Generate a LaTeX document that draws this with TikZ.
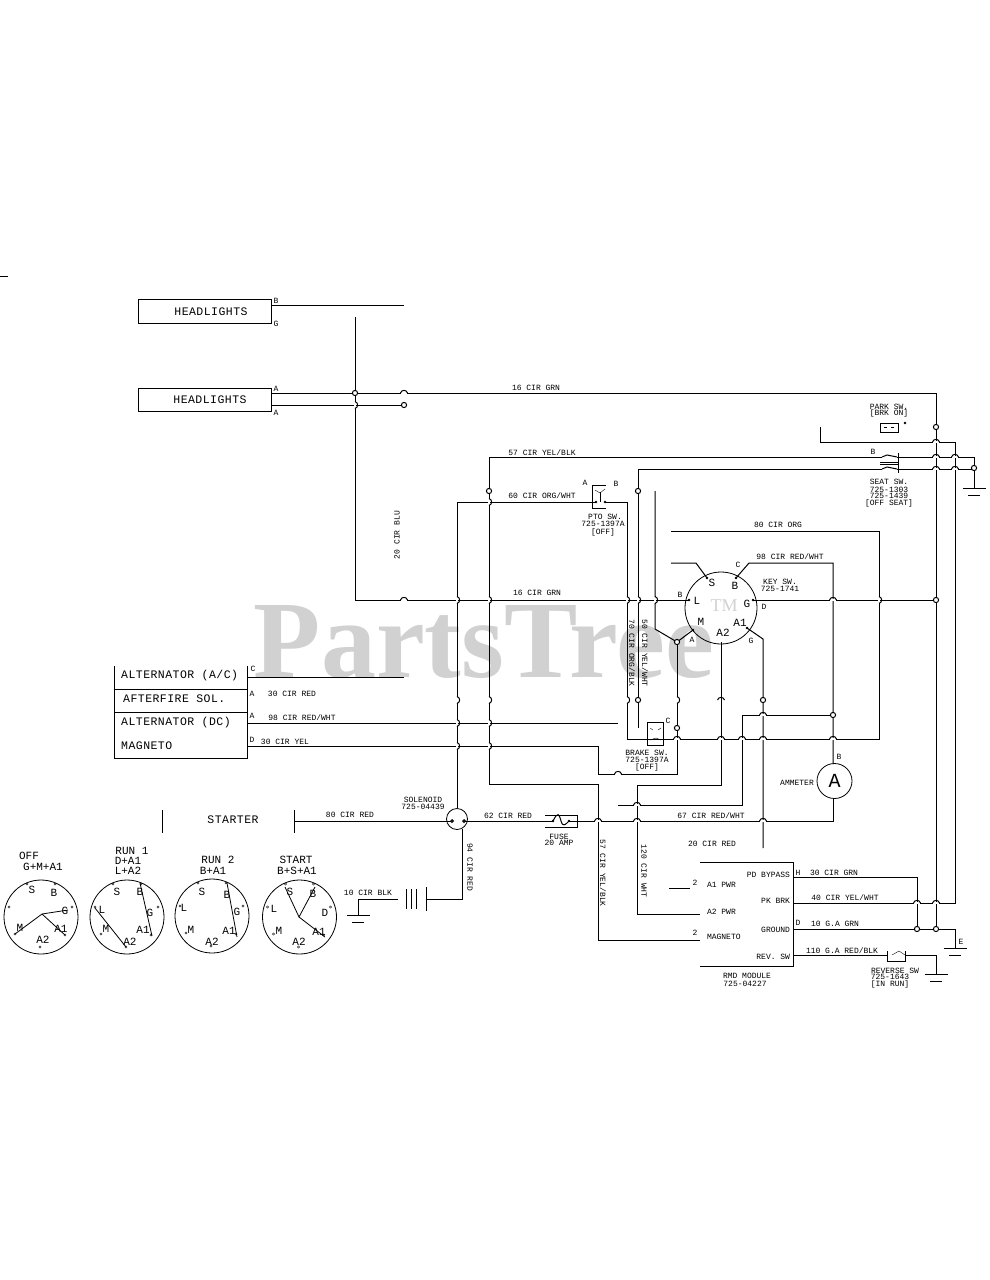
\documentclass[tikz,border=0pt]{standalone}
\usepackage{fontspec}
\setmainfont{Liberation Mono}
\newfontfamily\wmfont{Liberation Serif}
\newfontfamily\bigfont[LetterSpace=4]{Liberation Mono}
\newcount\lbn
\newcommand{\lbl}[4][lab]{\global\advance\lbn by 1 \node[#1] (l\the\lbn) at (#2,#3) {#4};}
\newcommand{\vhopmark}[2]{\fill[white] (#1-1,#2-3) rectangle (#1+1,#2+3);\draw[wire] (#1,#2-3.5) .. controls (#1+3.5,#2-2.5) and (#1+3.5,#2+2.5) .. (#1,#2+3.5);}
\newcommand{\hhopmark}[2]{\fill[white] (#1-3,#2-1) rectangle (#1+3,#2+1);\draw[wire] (#1-3.5,#2) .. controls (#1-2.5,#2-3.5) and (#1+2.5,#2-3.5) .. (#1+3.5,#2);}
\newcommand{\ringmark}[2]{\draw[wire,fill=white] (#1,#2) circle (2.6pt);}
\newcommand{\dotmark}[2]{\fill (#1,#2) circle (1.3pt);}
\newcommand{\gnd}[3]{\draw[wire] (#1-#3,#2) -- (#1+#3,#2) (#1-#3/2,#2+7) -- (#1+#3/2,#2+7);}
\tikzset{
 wire/.style={line width=1pt,black},
 lab/.style={font=\fontsize{8}{8}\selectfont,inner sep=0pt,outer sep=0pt,text=black},
 vlab/.style={lab,rotate=-90},
 ulab/.style={lab,rotate=90},
 big/.style={font=\bigfont\fontsize{11.5}{11.5}\selectfont,inner sep=0pt,text=black},
 keyl/.style={font=\fontsize{11}{11}\selectfont,inner sep=0pt,text=black},
 boxs/.style={draw,line width=1pt,inner sep=0pt},
 roundel/.style={draw,circle,line width=.8pt,inner sep=0pt},
}
\begin{document}
\begin{tikzpicture}[x=1pt,y=-1pt]
\useasboundingbox (0,0) rectangle (989,1280);
% watermark
\node[font=\wmfont\bfseries\fontsize{110}{110}\selectfont,text=black!18,inner sep=0pt,anchor=base] (wm) at (484,677) {PartsTree};
\node[font=\fontsize{18}{18}\selectfont\wmfont,text=black!18,inner sep=0pt] (wmtm) at (724,606) {TM};
% named points
\coordinate (tickA) at (0,276); \coordinate (tickB) at (8,276);
\node[boxs,minimum width=133pt,minimum height=24pt] (hlone) at (204.5,311) {};
\node[boxs,minimum width=133pt,minimum height=23pt] (hltwo) at (204.5,399.5) {};
\coordinate (hlEnd) at (404,305);
\coordinate (bluTop) at (355,317); \coordinate (bluBot) at (355,600);
\coordinate (gA) at (271,393); \coordinate (gAend) at (936,393);
\coordinate (gB) at (271,405); \coordinate (gBend) at (404,405);
\coordinate (rightBus) at (936,929);
\coordinate (grnEnd) at (936,600);
\coordinate (parkT) at (820,427); \coordinate (parkB) at (955,442); \coordinate (modY) at (793,903);
\coordinate (seat1) at (489,457); \coordinate (seat1e) at (974,457);
\coordinate (seat2) at (638,469); \coordinate (seat2e) at (974,469);
\coordinate (gndSeat) at (974,488);
\coordinate (y489) at (489,784); \coordinate (x598) at (598,940); \coordinate (modMag) at (700,940);
\coordinate (sTop) at (457,502); \coordinate (ptoIn) at (596,502); \coordinate (ptoOut) at (605,502);
\coordinate (orgTop) at (627,502); \coordinate (orgBot) at (627,739); \coordinate (orgR) at (879,739);
\coordinate (orgUp) at (879,531); \coordinate (orgEnd) at (671,531);
\coordinate (x638b) at (638,728); \coordinate (x655t) at (655,491); \coordinate (x655b) at (655,629);
\coordinate (ringM) at (677,642); \coordinate (termM) at (693,630);
\coordinate (termS) at (707,578); \coordinate (sK) at (696,563); \coordinate (sEnd) at (671,563);
\coordinate (termB) at (736,578); \coordinate (bK) at (749,563); \coordinate (bK2) at (833,563);
\coordinate (termL) at (689,600); \coordinate (termG) at (753,600);
\coordinate (termAone) at (747,628); \coordinate (aK) at (763,639); \coordinate (aEnd) at (763,848);
\coordinate (termAtwo) at (721,642); \coordinate (a2k) at (721,785); \coordinate (a2l) at (637,785); \coordinate (a2d) at (637,914); \coordinate (modA2) at (700,914);
\coordinate (alt) at (247,677); \coordinate (altE) at (404,677);
\coordinate (dcw) at (247,723); \coordinate (dcE) at (618,723);
\coordinate (mag) at (247,746); \coordinate (magK) at (598,746); \coordinate (magD) at (598,774); \coordinate (magE) at (677,774);
\coordinate (w805) at (618,805); \coordinate (w805k) at (742,805); \coordinate (w715) at (742,715); \coordinate (w715e) at (833,715);
\coordinate (starterR) at (294,821);
\coordinate (batT) at (462,829); \coordinate (batK) at (462,899); \coordinate (batP) at (426,899);
\coordinate (batN) at (398,899); \coordinate (batK2) at (358,899); \coordinate (batG) at (358,915);
\coordinate (fuseIn) at (464,821); \coordinate (fuseL) at (553,821); \coordinate (fuseR) at (569,821);
% shapes
\node[roundel,minimum size=72pt] (keysw) at (721,608) {};
\node[roundel,minimum size=35pt] (amm) at (834.5,781) {};
\node[roundel,minimum size=21pt] (sol) at (457,819) {};
\coordinate (ammW) at (833,821);
% wires
\draw[wire] (tickA) -- (tickB);
\draw[wire] (271,305) -- (hlEnd);
\draw[wire] (bluTop) -- (bluBot) -- (termL);
\draw[wire] (termG) -- (grnEnd);
\draw[wire] (gA) -- (gAend) -- (rightBus);
\draw[wire] (gB) -- (gBend);
\draw[wire] (parkT) -- (parkT |- parkB) -- (parkB) -- (parkB |- modY) -- (modY);
\draw[wire] (seat1 |- y489) -- (seat1) -- (882,457);
\draw[wire] (897,457) -- (seat1e) -- (seat2e);
\draw[wire] (seat2e) -- (gndSeat);
\draw[wire] (x638b) -- (seat2) -- (882,469) (897,469) -- (seat2e);
\draw[wire] (y489) -- (y489 -| x598) -- (x598) -- (modMag);
\draw[wire] (sol.north) -- (sTop) -- (ptoIn) (ptoOut) -- (orgTop) -- (orgBot) -- (orgR) -- (orgUp) -- (orgEnd);
\draw[wire] (x655t) -- (x655b) -- (ringM) -- (termM);
\draw[wire] (termS) -- (sK) -- (sEnd);
\draw[wire] (termB) -- (bK) -- (bK2) -- (833,764);
\draw[wire] (termAone) -- (aK) -- (aEnd);
\draw[wire] (termAtwo) -- (a2k) -- (a2l) -- (a2d) -- (modA2);
\draw[wire] (alt) -- (altE);
\draw[wire] (dcw) -- (dcE);
\draw[wire] (mag) -- (magK) -- (magD) -- (magE) -- (ringM);
\draw[wire] (w805) -- (w805k) -- (w715) -- (w715e);
\draw[wire] (starterR) -- (452,821);
\draw[wire] (fuseIn) -- (fuseL) (fuseR) -- (ammW) -- (833,798);
\draw[wire] (batT) -- (batK) -- (batP);
\draw[wire] (batN) -- (batK2) -- (batG);
% starter
\draw[wire] (162,810) -- (162,833) (294,810) -- (294,833);
% alternator block
\draw[wire] (114,666) -- (114,758) -- (247,758) -- (247,666) (114,689) -- (247,689) (114,712) -- (247,712);
% battery
\draw[wire] (426,887) -- (426,911) (416,889) -- (416,909) (411,889) -- (411,909) (406,889) -- (406,909);
\gnd{358}{915}{11.5}
\gnd{974}{488}{11.5}
\gnd{955}{948}{11.5}
\gnd{936}{974}{11.5}
% module
\draw[wire] (700,862) -- (793,862) -- (793,966) -- (700,966);
\draw[wire] (669,888) -- (690,888);
\draw[wire] (793,877) -- (917,877) -- (917,929);
\draw[wire] (793,929) -- (955,929) -- (955,948);
\draw[wire] (793,955) -- (887,955) (905,955) -- (936,955) -- (936,974);
% reverse switch
\draw[wire] (887,951) -- (887,961) -- (905,961) -- (905,951);
\draw[thin] (892,955) -- (899,951) (899,951) -- (905,955);
% fuse
\draw[wire] (545,815) -- (577,815) -- (577,827) -- (545,827);
\draw[wire] (fuseL) .. controls (558,811) and (559,814) .. (561,821) .. controls (563,828) and (566,824) .. (fuseR);
\dotmark{553}{821}\dotmark{569}{821}
% seat switch
\draw[wire] (880,462) -- (898,462) (880,464.5) -- (898,464.5) (898,453) -- (898,473);
\draw[wire] (882,457) -- (887,455) -- (897,457) (882,469) -- (887,467) -- (897,469);
% park switch
\draw[wire] (880,423) rectangle (898,432);
\draw[thin] (884,427.5) -- (887,427.5) (891,427.5) -- (894,427.5);
\dotmark{905}{423}
% pto switch
\draw[wire] (606,485) -- (592,485) -- (592,508) -- (606,508);
\draw[wire] (600,502) -- (600,492);
\draw[thin] (595,490) -- (600,493) -- (605,489);
\dotmark{596}{502}\dotmark{605}{502}
% brake switch
\draw[wire] (647,722) rectangle (663,745);
\draw[thin] (650,728) -- (653,730) (658,730) -- (661,728) (650,740) -- (656,738) -- (661,740);
% terminals of key switch
\dotmark{689}{600}\dotmark{753}{600}\dotmark{707}{578}\dotmark{736}{578}\dotmark{747}{628}\dotmark{693}{630}
% dials
\node[roundel,minimum size=74pt] (dialA) at (41,917) {};
\node[roundel,minimum size=74pt] (dialB) at (127,917) {};
\node[roundel,minimum size=74pt] (dialC) at (212,916) {};
\node[roundel,minimum size=74pt] (dialD) at (299.5,917) {};
\foreach \dx/\dy in {-14/-33,14/-33,-32/-10,31/-10,-26/17,24/18,-1/30}{\draw[thin] (41+\dx,917+\dy) circle (1.1pt);\draw[thin] (127+\dx,917+\dy) circle (1.1pt);\draw[thin] (212+\dx,916+\dy) circle (1.1pt);\draw[thin] (299.5+\dx,917+\dy) circle (1.1pt);}
\draw[line width=.8pt] (15,934) -- (42,914) -- (68,910) (42,914) -- (65,935);
\draw[line width=.8pt] (140,883) -- (152,936) (95,908) -- (126,947);
\draw[line width=.8pt] (227,883) -- (237,937);
\draw[line width=.8pt] (285,887) -- (299,917) -- (315,887) (299,917) -- (325,937);
% hops
\foreach \x/\y in {355/405,457/600,489/502,489/600,627/600,638/600,655/600,879/600,457/700,457/723,457/746,489/700,489/723,489/746,627/700,677/700}{\vhopmark{\x}{\y}}
\foreach \x/\y in {404/393,404/600,833/600,936/442,936/457,955/457,936/469,955/469,677/739,721/739,742/739,763/739,833/739,763/715,618/774,598/821,637/821,763/821,637/805,917/903,936/903}{\hhopmark{\x}{\y}}
\draw[wire] (717.5,700) .. controls (718.5,696.5) and (723.5,696.5) .. (724.5,700);
\foreach \x/\y in {355/393,404/405,936/427,974/468,489/491,638/491,638/700,763/700,677/642,677/728,833/715,936/600,917/929,936/929}{\ringmark{\x}{\y}}
\draw[wire,fill=white] (464,821) circle (1.3pt);
\draw[wire,fill=white] (452,821) circle (1.3pt);
% texts
\lbl[big]{211}{312}{HEADLIGHTS}
\lbl[big]{210}{400}{HEADLIGHTS}
\lbl{276}{301}{B}\lbl{276}{324}{G}\lbl{276}{389}{A}\lbl{276}{413}{A}
\lbl{536}{388}{16 CIR GRN}
\lbl{889}{407}{PARK SW.}\lbl{889}{413}{[BRK ON]}
\lbl{542}{453}{57 CIR YEL/BLK}
\lbl{873}{452}{B}
\lbl{889}{482}{SEAT SW.}\lbl{889}{490}{725-1303}\lbl{889}{496}{725-1439}\lbl{889}{503}{[OFF SEAT]}
\lbl{542}{496}{60 CIR ORG/WHT}
\lbl{585}{483}{A}\lbl{616}{484}{B}
\lbl{605}{517}{PTO SW.}\lbl{603}{524}{725-1397A}\lbl{603}{532}{[OFF]}
\lbl{778}{525}{80 CIR ORG}
\lbl{790}{557}{98 CIR RED/WHT}
\lbl[ulab]{397}{535}{20 CIR BLU}
\lbl{537}{593}{16 CIR GRN}
\lbl[vlab]{632}{653}{70 CIR ORG/BLK}
\lbl[vlab]{645}{653}{50 CIR YEL/WHT}
\lbl{680}{595}{B}\lbl{738}{565}{C}\lbl{764}{607}{D}\lbl{692}{640}{A}\lbl{751}{641}{G}
\lbl{780}{582}{KEY SW.}\lbl{780}{589}{725-1741}
\lbl[keyl]{712}{583}{S}\lbl[keyl]{735}{586}{B}\lbl[keyl]{697}{601}{L}\lbl[keyl]{747}{604}{G}
\lbl[keyl]{701}{622}{M}\lbl[keyl]{740}{623}{A1}\lbl[keyl]{723}{633}{A2}
\lbl{668}{721}{C}
\lbl{647}{753}{BRAKE SW.}\lbl{647}{760}{725-1397A}\lbl{647}{767}{[OFF]}
\lbl{839}{757}{B}\lbl{797}{783}{AMMETER}
\node[font=\fontsize{20}{20}\selectfont,inner sep=0pt] (ammA) at (amm) {A};
\lbl{253}{669}{C}\lbl{252}{694}{A}\lbl{252}{716}{A}\lbl{252}{740}{D}
\lbl{292}{694}{30 CIR RED}
\lbl{302}{718}{98 CIR RED/WHT}
\lbl{285}{742}{30 CIR YEL}
\node[big,anchor=west] (altac) at (121,676) {ALTERNATOR (A/C)};
\node[big,anchor=west] (after) at (123,699) {AFTERFIRE SOL.};
\node[big,anchor=west] (altdc) at (121,723) {ALTERNATOR (DC)};
\node[big,anchor=west] (magn) at (121,746) {MAGNETO};
\lbl[big]{233}{820}{STARTER}
\lbl{350}{815}{80 CIR RED}
\lbl{423}{800}{SOLENOID}\lbl{423}{807}{725-04439}
\lbl{508}{816}{62 CIR RED}
\lbl{559}{837}{FUSE}\lbl{559}{843}{20 AMP}
\lbl{711}{816}{67 CIR RED/WHT}
\lbl{712}{844}{20 CIR RED}
\lbl[vlab]{603}{873}{57 CIR YEL/BLK}
\lbl[vlab]{644}{871}{120 CIR WHT}
\lbl[vlab]{470}{867}{94 CIR RED}
\lbl{368}{893}{10 CIR BLK}
\lbl{695}{883}{2}\lbl{695}{933}{2}
\node[lab,anchor=west] (ma) at (707,885) {A1 PWR};
\node[lab,anchor=west] (mb) at (707,912) {A2 PWR};
\node[lab,anchor=west] (mc) at (707,937) {MAGNETO};
\node[lab,anchor=east] (md) at (790,875) {PD BYPASS};
\node[lab,anchor=east] (me) at (790,901) {PK BRK};
\node[lab,anchor=east] (mf) at (790,930) {GROUND};
\node[lab,anchor=east] (mg) at (790,957) {REV. SW};
\lbl{747}{976}{RMD MODULE}\lbl{745}{984}{725-04227}
\lbl{798}{873}{H}\lbl{834}{873}{30 CIR GRN}
\lbl{845}{898}{40 CIR YEL/WHT}
\lbl{798}{923}{D}\lbl{835}{924}{10 G.A GRN}
\lbl{961}{942}{E}
\lbl{842}{951}{110 G.A RED/BLK}
\lbl{895}{971}{REVERSE SW}\lbl{890}{977}{725-1643}\lbl{890}{984}{[IN RUN]}
% dial texts
\lbl[keyl]{29}{856}{OFF}\lbl[keyl]{43}{867}{G+M+A1}
\lbl[keyl]{132}{851}{RUN 1}\lbl[keyl]{128}{861}{D+A1}\lbl[keyl]{128}{871}{L+A2}
\lbl[keyl]{218}{860}{RUN 2}\lbl[keyl]{213}{871}{B+A1}
\lbl[keyl]{296}{860}{START}\lbl[keyl]{297}{871}{B+S+A1}
\lbl[keyl]{32}{890}{S}\lbl[keyl]{54}{893}{B}\lbl[keyl]{65}{911}{G}\lbl[keyl]{20}{928}{M}\lbl[keyl]{61}{929}{A1}\lbl[keyl]{43}{940}{A2}
\lbl[keyl]{117}{892}{S}\lbl[keyl]{140}{892}{B}\lbl[keyl]{150}{913}{G}\lbl[keyl]{102}{910}{L}\lbl[keyl]{106}{929}{M}\lbl[keyl]{143}{930}{A1}\lbl[keyl]{130}{942}{A2}
\lbl[keyl]{202}{892}{S}\lbl[keyl]{227}{895}{B}\lbl[keyl]{237}{912}{G}\lbl[keyl]{184}{908}{L}\lbl[keyl]{191}{930}{M}\lbl[keyl]{229}{931}{A1}\lbl[keyl]{212}{942}{A2}
\lbl[keyl]{290}{892}{S}\lbl[keyl]{313}{894}{B}\lbl[keyl]{325}{913}{D}\lbl[keyl]{274}{909}{L}\lbl[keyl]{279}{931}{M}\lbl[keyl]{319}{932}{A1}\lbl[keyl]{299}{942}{A2}
\end{tikzpicture}
\end{document}
